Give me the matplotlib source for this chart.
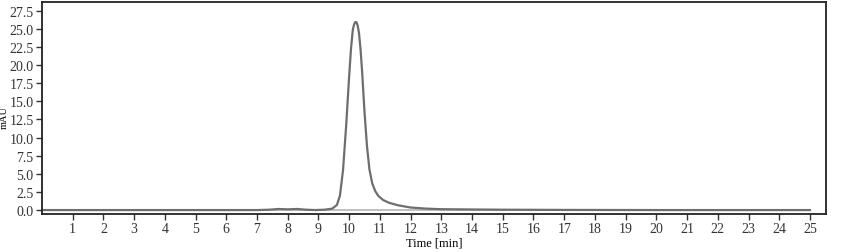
# Chromatogram, re-drawn from the reference picture.
import matplotlib
matplotlib.use("Agg")
import matplotlib.pyplot as plt
import numpy as np

# Values (time in min, signal in mAU).
time_min = [0.0, 3.0, 7.0, 7.4, 7.7, 8.0, 8.3, 8.6, 8.9, 9.2, 9.45, 9.6, 9.7,
            9.8, 9.9, 10.0, 10.06, 10.12, 10.16, 10.2, 10.24, 10.28, 10.32,
            10.37, 10.42, 10.5, 10.58, 10.66, 10.75, 10.85, 10.95, 11.1,
            11.3, 11.6, 12.0, 12.5, 13.0, 14.0, 15.0, 17.0, 20.0, 25.0]
signal_mau = [0.0, 0.0, 0.0, 0.05, 0.15, 0.1, 0.15, 0.05, 0.0, 0.05, 0.2,
              0.7, 2.0, 5.5, 11.5, 18.5, 22.3, 24.9, 25.6, 25.95, 25.9, 25.4,
              24.4, 22.2, 19.2, 13.5, 8.8, 5.6, 3.7, 2.6, 1.95, 1.4, 1.0,
              0.65, 0.35, 0.2, 0.12, 0.08, 0.05, 0.02, 0.0, 0.0]
baseline_t = [0.0, 25.0]
baseline_v = [0.0, 0.0]

x_ticks = list(range(1, 26))
y_ticks = [0.0, 2.5, 5.0, 7.5, 10.0, 12.5, 15.0, 17.5, 20.0, 22.5, 25.0, 27.5]

plt.rcParams["font.family"] = ["Liberation Serif", "DejaVu Serif"]

fig = plt.figure(figsize=(8.41, 2.53), dpi=100)
ax = fig.add_axes([0.0499, 0.150, 0.9322, 0.838])

ax.plot(baseline_t, baseline_v, color="#b4b4b4", lw=1.2)
ax.plot(time_min, signal_mau, color="#6e6e6e", lw=1.6)

ax.set_xlim(0, 25.52)
ax.set_ylim(-0.55, 28.7)
ax.set_xticks(x_ticks)
ax.set_yticks(y_ticks)
ax.set_yticklabels(["%.1f" % v for v in y_ticks])
ax.tick_params(labelsize=10, length=4, width=1, pad=2, direction="out",
               colors="#333333")
for s in ax.spines.values():
    s.set_linewidth(1.3)
    s.set_color("#222222")

ax.set_xlabel("Time [min]", fontsize=9, labelpad=1)
fig.text(0.0055, 0.535, "mAU", rotation=90, fontsize=7.5, ha="center", va="center")

fig.savefig("out.png", dpi=100)
